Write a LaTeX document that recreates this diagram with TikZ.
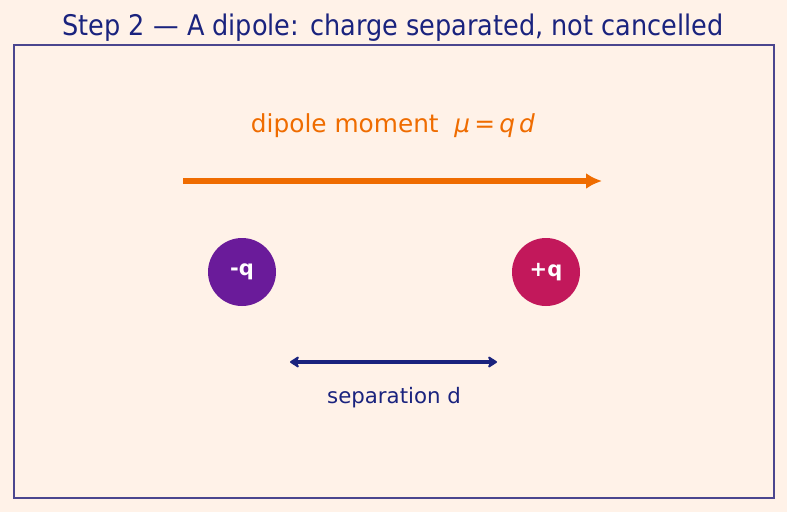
\documentclass[tikz,border=0pt]{standalone}
\usepackage{fontspec}
\setmainfont{DejaVu Sans}
\newfontfamily\titlefont[FakeStretch=0.9]{DejaVu Sans}
\usetikzlibrary{arrows.meta}
\definecolor{bgc}{HTML}{FFF2E8}
\definecolor{navy}{HTML}{1A237E}
\definecolor{framec}{HTML}{4B468F}
\definecolor{orangec}{HTML}{EF6C00}
\definecolor{negc}{HTML}{6A1B9A}
\definecolor{posc}{HTML}{C2185B}
\tikzset{
  charge/.style={circle, minimum size=68pt, inner sep=0pt, text=white, font=\fontsize{21}{24}\selectfont\bfseries},
  lbl/.style={inner sep=0pt, anchor=base},
}
\begin{document}
\begin{tikzpicture}[x=1pt,y=-1pt]
\fill[bgc] (0,0) rectangle (787,512);
\useasboundingbox (0,0) rectangle (787,512);
\draw[framec, line width=1.6pt] (14,45) rectangle (774,498);
\node[lbl, text=navy, font=\titlefont\fontsize{28.4}{32}\selectfont] (title) at (393,35) {Step 2 — A dipole: charge separated, not cancelled};
\node[lbl, text=orangec, font=\fontsize{24.8}{28}\selectfont] (mom) at (393,132) {dipole moment\ \ \textit{μ}\,=\,\textit{q}\,\textit{d}};
\coordinate (ma) at (183,181);
\coordinate (mb) at (602,181);
\draw[orangec, line width=5.5pt, -{Latex[length=16pt,width=16pt]}] (ma) -- (mb);
\node[charge, fill=negc] (neg) at (242,272) {-q};
\node[charge, fill=posc] (pos) at (546,272) {+q};
\coordinate (sa) at (290,362);
\coordinate (sb) at (497,362);
\draw[navy, line width=3.6pt, {Stealth[length=11pt,width=14pt,inset=3.5pt,round]}-{Stealth[length=11pt,width=14pt,inset=3.5pt,round]}] (sa) -- (sb);
\node[lbl, text=navy, font=\fontsize{21.3}{24}\selectfont] (sep) at (394,403) {separation d};
\end{tikzpicture}
\end{document}
